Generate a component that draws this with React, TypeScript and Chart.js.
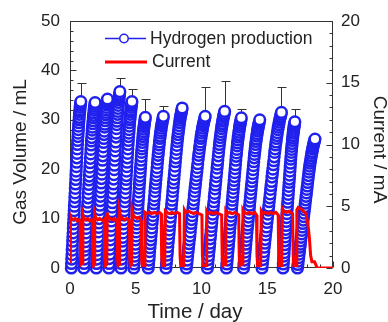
import React, { useEffect, useRef } from 'react';
import { Chart, registerables } from 'chart.js';

Chart.register(...registerables);

// ---- Data ----
const seriesLabels = ['Hydrogen production', 'Current'];
const axisTitles = ['Time / day', 'Gas Volume / mL', 'Current / mA'];

// start / end (peak) time of each gas-collection cycle, in days
const cycleStart = [0.1, 1.05, 2.0, 2.95, 3.88, 4.85, 5.95, 7.3, 8.85, 10.45, 11.9, 13.2, 14.6, 16.2, 17.3];
const cycleEnd = [0.82, 1.91, 2.85, 3.79, 4.71, 5.73, 7.1, 8.53, 10.28, 11.76, 13.03, 14.43, 16.08, 17.1, 18.63];

// gas volume readings (mL) within each cycle
const cycleVolumes = [
  [0, 0.9, 1.8, 2.7, 3.6, 4.5, 5.4, 6.3, 7.1, 8.0, 8.9, 9.8, 10.7, 11.6, 12.5, 13.4, 14.3, 15.2, 16.1, 17.0, 17.9, 18.8, 19.6, 20.5, 21.4, 22.3, 23.2, 24.1, 25.0, 25.8, 26.6, 27.3, 28.0, 28.7, 29.4, 30.0, 30.5, 31.1, 31.6, 32.0, 32.5, 32.9, 33.3, 33.7],
  [0, 0.9, 1.8, 2.7, 3.6, 4.4, 5.3, 6.2, 7.1, 8.0, 8.9, 9.8, 10.7, 11.5, 12.4, 13.3, 14.2, 15.1, 16.0, 16.9, 17.8, 18.6, 19.5, 20.4, 21.3, 22.2, 23.1, 24.0, 24.9, 25.7, 26.4, 27.2, 27.9, 28.5, 29.2, 29.8, 30.4, 30.9, 31.4, 31.9, 32.3, 32.7, 33.1, 33.5],
  [0, 0.9, 1.8, 2.7, 3.6, 4.5, 5.4, 6.3, 7.3, 8.2, 9.1, 10.0, 10.9, 11.8, 12.7, 13.6, 14.5, 15.4, 16.3, 17.2, 18.1, 19.0, 19.9, 20.8, 21.8, 22.7, 23.6, 24.5, 25.4, 26.2, 27.0, 27.7, 28.5, 29.1, 29.8, 30.4, 31.0, 31.5, 32.0, 32.5, 33.0, 33.4, 33.8, 34.2],
  [0, 0.9, 1.9, 2.8, 3.8, 4.7, 5.7, 6.6, 7.6, 8.5, 9.5, 10.4, 11.4, 12.3, 13.2, 14.2, 15.1, 16.1, 17.0, 18.0, 18.9, 19.9, 20.8, 21.8, 22.7, 23.7, 24.6, 25.5, 26.5, 27.3, 28.2, 29.0, 29.7, 30.4, 31.1, 31.7, 32.3, 32.9, 33.5, 34.0, 34.4, 34.8, 35.2, 35.7],
  [0, 0.9, 1.8, 2.7, 3.6, 4.5, 5.4, 6.2, 7.1, 8.0, 8.9, 9.8, 10.7, 11.6, 12.5, 13.4, 14.3, 15.2, 16.1, 17.0, 17.9, 18.7, 19.6, 20.5, 21.4, 22.3, 23.2, 24.1, 25.0, 25.8, 26.6, 27.3, 28.0, 28.7, 29.4, 30.0, 30.5, 31.1, 31.6, 32.0, 32.5, 32.9, 33.3, 33.7],
  [0, 0.8, 1.6, 2.4, 3.2, 4.0, 4.8, 5.7, 6.5, 7.3, 8.1, 8.9, 9.7, 10.5, 11.3, 12.1, 12.9, 13.7, 14.5, 15.4, 16.2, 17.0, 17.8, 18.6, 19.4, 20.2, 21.0, 21.8, 22.6, 23.4, 24.1, 24.7, 25.4, 26.0, 26.6, 27.1, 27.6, 28.1, 28.6, 29.0, 29.4, 29.8, 30.1, 30.5],
  [0, 0.8, 1.6, 2.4, 3.3, 4.1, 4.9, 5.7, 6.5, 7.3, 8.1, 9.0, 9.8, 10.6, 11.4, 12.2, 13.0, 13.8, 14.6, 15.5, 16.3, 17.1, 17.9, 18.7, 19.5, 20.3, 21.2, 22.0, 22.8, 23.5, 24.2, 24.9, 25.5, 26.2, 26.7, 27.3, 27.8, 28.3, 28.8, 29.2, 29.6, 30.0, 30.3, 30.7],
  [0, 0.9, 1.7, 2.6, 3.4, 4.3, 5.2, 6.0, 6.9, 7.7, 8.6, 9.4, 10.3, 11.2, 12.0, 12.9, 13.7, 14.6, 15.5, 16.3, 17.2, 18.0, 18.9, 19.7, 20.6, 21.5, 22.3, 23.2, 24.0, 24.8, 25.6, 26.3, 27.0, 27.6, 28.2, 28.8, 29.4, 29.9, 30.4, 30.8, 31.2, 31.6, 32.0, 32.4],
  [0, 0.8, 1.6, 2.5, 3.3, 4.1, 4.9, 5.7, 6.5, 7.3, 8.2, 9.0, 9.8, 10.6, 11.4, 12.2, 13.0, 13.8, 14.7, 15.5, 16.3, 17.1, 17.9, 18.7, 19.5, 20.3, 21.1, 22.0, 22.8, 23.5, 24.2, 24.9, 25.5, 26.2, 26.7, 27.3, 27.8, 28.3, 28.8, 29.2, 29.6, 30.0, 30.3, 30.7],
  [0, 0.8, 1.7, 2.5, 3.4, 4.2, 5.0, 5.9, 6.7, 7.6, 8.4, 9.2, 10.1, 10.9, 11.8, 12.6, 13.4, 14.3, 15.1, 16.0, 16.8, 17.6, 18.5, 19.3, 20.2, 21.0, 21.8, 22.7, 23.5, 24.3, 25.0, 25.7, 26.4, 27.0, 27.6, 28.2, 28.7, 29.2, 29.7, 30.1, 30.6, 30.9, 31.3, 31.7],
  [0, 0.8, 1.6, 2.4, 3.2, 4.0, 4.8, 5.6, 6.4, 7.3, 8.1, 8.9, 9.7, 10.5, 11.3, 12.1, 12.9, 13.7, 14.5, 15.3, 16.1, 16.9, 17.7, 18.5, 19.3, 20.1, 20.9, 21.8, 22.6, 23.3, 24.0, 24.7, 25.3, 25.9, 26.5, 27.0, 27.5, 28.0, 28.5, 28.9, 29.3, 29.7, 30.0, 30.4],
  [0, 0.8, 1.6, 2.4, 3.2, 4.0, 4.8, 5.6, 6.4, 7.2, 8.0, 8.7, 9.5, 10.3, 11.1, 11.9, 12.7, 13.5, 14.3, 15.1, 15.9, 16.7, 17.5, 18.3, 19.1, 19.9, 20.7, 21.5, 22.3, 23.0, 23.7, 24.3, 25.0, 25.6, 26.1, 26.7, 27.2, 27.7, 28.1, 28.5, 28.9, 29.3, 29.6, 30.0],
  [0, 0.8, 1.7, 2.5, 3.3, 4.2, 5.0, 5.8, 6.7, 7.5, 8.3, 9.2, 10.0, 10.9, 11.7, 12.5, 13.4, 14.2, 15.0, 15.9, 16.7, 17.5, 18.4, 19.2, 20.0, 20.9, 21.7, 22.5, 23.4, 24.1, 24.9, 25.5, 26.2, 26.8, 27.4, 28.0, 28.5, 29.0, 29.5, 30.0, 30.4, 30.7, 31.1, 31.5],
  [0, 0.8, 1.6, 2.4, 3.1, 3.9, 4.7, 5.5, 6.3, 7.1, 7.8, 8.6, 9.4, 10.2, 11.0, 11.8, 12.5, 13.3, 14.1, 14.9, 15.7, 16.5, 17.3, 18.0, 18.8, 19.6, 20.4, 21.2, 22.0, 22.7, 23.4, 24.0, 24.6, 25.2, 25.8, 26.3, 26.8, 27.3, 27.7, 28.1, 28.5, 28.9, 29.2, 29.6],
  [0, 0.7, 1.4, 2.1, 2.8, 3.5, 4.2, 4.8, 5.5, 6.2, 6.9, 7.6, 8.3, 9.0, 9.7, 10.4, 11.1, 11.8, 12.4, 13.1, 13.8, 14.5, 15.2, 15.9, 16.6, 17.3, 18.0, 18.7, 19.4, 20.0, 20.6, 21.2, 21.7, 22.2, 22.7, 23.2, 23.6, 24.1, 24.5, 24.8, 25.2, 25.5, 25.8, 26.1],
];

// error (mL) on the final reading of each cycle (0 = no bar drawn)
const peakError = [3.7, 0, 0, 2.7, 2.5, 3.8, 2.0, 0, 6.0, 6.2, 1.8, 0, 5.2, 2.6, 0];

// current trace
const currentTime = [
  0.0, 0.03, 0.1, 0.25, 0.4, 0.55, 0.7, 0.77, 0.8, 0.85, 0.95,
  0.98, 1.05, 1.2, 1.35, 1.5, 1.65, 1.72, 1.75, 1.8, 1.85,
  1.88, 1.95, 2.1, 2.25, 2.4, 2.55, 2.61, 2.64, 2.7, 2.8,
  2.83, 2.9, 3.05, 3.2, 3.35, 3.5, 3.58, 3.61, 3.66, 3.74,
  3.77, 3.85, 4.0, 4.15, 4.3, 4.45, 4.52, 4.55, 4.6, 4.69,
  4.72, 4.8, 4.95, 5.1, 5.25, 5.38, 5.42, 5.45, 5.5, 5.65,
  5.7, 5.8, 6.0, 6.2, 6.4, 6.6, 6.8, 6.93, 6.97, 7.02, 7.2,
  7.25, 7.35, 7.55, 7.75, 7.95, 8.15, 8.33, 8.37, 8.42, 8.65,
  8.7, 8.8, 9.0, 9.2, 9.4, 9.6, 9.8, 10.03, 10.07, 10.12, 10.35,
  10.4, 10.5, 10.7, 10.9, 11.1, 11.3, 11.53, 11.57, 11.62, 11.8,
  11.85, 11.95, 12.15, 12.35, 12.55, 12.83, 12.87, 12.92, 13.1,
  13.15, 13.25, 13.45, 13.65, 13.85, 14.05, 14.18, 14.22, 14.27, 14.5,
  14.55, 14.65, 14.85, 15.05, 15.25, 15.45, 15.65, 15.83, 15.87, 15.92, 16.1,
  16.15, 16.25, 16.45, 16.65, 16.93, 16.97, 17.02, 17.2,
  17.25, 17.35, 17.55, 17.75, 17.95, 18.1, 18.2, 18.3, 18.4, 18.6, 18.8, 20.0,
];
const currentValue = [
  0.5, 4.2, 4.0, 3.9, 4.0, 3.8, 3.9, 3.7, 1.0, 0.3, 0.4,
  4.3, 4.0, 3.9, 4.0, 3.8, 3.9, 3.7, 0.8, 0.2, 0.3,
  4.4, 4.1, 3.9, 4.0, 3.9, 3.8, 3.9, 0.9, 0.2, 0.3,
  4.5, 4.1, 4.0, 3.9, 4.0, 3.8, 3.9, 0.8, 0.2, 0.3,
  4.6, 4.2, 4.0, 3.9, 4.0, 3.9, 3.8, 0.7, 0.2, 0.3,
  4.7, 4.3, 4.1, 4.0, 4.1, 3.9, 3.8, 0.6, 0.2, 0.2,
  4.5, 4.4, 4.5, 4.4, 4.5, 4.4, 4.5, 4.4, 1.0, 0.2, 0.2,
  4.6, 4.5, 4.4, 4.5, 4.4, 4.5, 4.4, 1.0, 0.2, 0.2,
  4.7, 4.5, 4.6, 4.5, 4.4, 4.5, 4.4, 4.3, 1.0, 0.2, 0.2,
  4.6, 4.4, 4.5, 4.4, 4.5, 4.4, 4.3, 1.0, 0.2, 0.3,
  4.6, 4.4, 4.5, 4.4, 4.5, 4.3, 1.0, 0.2, 0.3,
  4.7, 4.5, 4.4, 4.5, 4.4, 4.5, 4.3, 1.0, 0.2, 0.2,
  4.6, 4.4, 4.5, 4.4, 4.5, 4.4, 4.5, 4.3, 1.0, 0.2, 0.2,
  4.8, 4.6, 4.5, 4.6, 4.4, 1.0, 0.2, 0.2,
  4.7, 4.9, 4.8, 4.6, 4.4, 3.5, 2.5, 1.0, 0.5, 0.5, 0.0, 0.0,
];

const xRange = [0, 20];
const yRange = [0, 50];
const y1Range = [0, 20];

const FONT = '"Liberation Sans", Arial, Helvetica, sans-serif';
const BLUE = '#2020ee';
const RED = '#ff0000';
const INK = '#222222';

const framePlugin = {
  id: 'frameTicks',
  beforeDatasetsDraw(chart: any) {
    const { ctx, chartArea: a, scales } = chart;
    ctx.save();
    ctx.strokeStyle = '#333333';
    ctx.lineWidth = 1;
    const L = Math.round(a.left) + 0.5;
    const R = Math.round(a.right) - 0.5;
    const T = Math.round(a.top) + 0.5;
    const B = Math.round(a.bottom) - 0.5;
    ctx.strokeRect(L, T, R - L, B - T);
    ctx.beginPath();
    scales.x.ticks.forEach((t: any) => {
      const px = Math.round(scales.x.getPixelForValue(t.value)) + 0.5;
      const len = t.value % 5 === 0 ? 6 : 3;
      ctx.moveTo(px, B);
      ctx.lineTo(px, B - len);
    });
    scales.y.ticks.forEach((t: any) => {
      const py = Math.round(scales.y.getPixelForValue(t.value)) + 0.5;
      const len = t.value % 10 === 0 ? 6 : 3;
      ctx.moveTo(L, py);
      ctx.lineTo(L + len, py);
    });
    scales.y1.ticks.forEach((t: any) => {
      const py = Math.round(scales.y1.getPixelForValue(t.value)) + 0.5;
      const len = t.value % 5 === 0 ? 6 : 3;
      ctx.moveTo(R, py);
      ctx.lineTo(R - len, py);
    });
    ctx.stroke();

    // error bars on the final reading of each cycle
    ctx.strokeStyle = '#333333';
    ctx.lineWidth = 1;
    ctx.beginPath();
    cycleVolumes.forEach((vals, c) => {
      const err = peakError[c];
      if (!err) return;
      const v = vals[vals.length - 1];
      const px = Math.round(scales.x.getPixelForValue(cycleEnd[c])) + 0.5;
      const top = Math.round(scales.y.getPixelForValue(v + err)) + 0.5;
      const bot = scales.y.getPixelForValue(v);
      ctx.moveTo(px, bot);
      ctx.lineTo(px, top);
      ctx.moveTo(px - 4, top);
      ctx.lineTo(px + 5, top);
    });
    ctx.stroke();
    ctx.restore();
  },
  afterDraw(chart: any) {
    const { ctx } = chart;
    ctx.save();
    ctx.textBaseline = 'middle';
    ctx.textAlign = 'center';
    ctx.fillStyle = INK;
    // axis titles
    ctx.font = '20.5px ' + FONT;
    ctx.fillText(axisTitles[0], 195, 312);
    ctx.font = '19px ' + FONT;
    ctx.save();
    ctx.translate(21, 152);
    ctx.rotate(-Math.PI / 2);
    ctx.fillText(axisTitles[1], 0, 0);
    ctx.restore();
    ctx.save();
    ctx.translate(379, 149.5);
    ctx.rotate(Math.PI / 2);
    ctx.fillText(axisTitles[2], 0, 0);
    ctx.restore();

    // legend
    ctx.textAlign = 'left';
    ctx.font = '17.5px ' + FONT;
    ctx.strokeStyle = BLUE;
    ctx.lineWidth = 1.5;
    ctx.beginPath();
    ctx.moveTo(105, 38.5);
    ctx.lineTo(146, 38.5);
    ctx.stroke();
    ctx.beginPath();
    ctx.arc(124, 38.5, 4.2, 0, Math.PI * 2);
    ctx.fillStyle = '#ffffff';
    ctx.fill();
    ctx.stroke();
    ctx.fillStyle = INK;
    ctx.fillText(seriesLabels[0], 150, 39);
    ctx.strokeStyle = RED;
    ctx.lineWidth = 3;
    ctx.beginPath();
    ctx.moveTo(105, 62);
    ctx.lineTo(147, 62);
    ctx.stroke();
    ctx.fillText(seriesLabels[1], 152, 62.5);
    ctx.restore();
  },
};

export default function App() {
  const ref = useRef<HTMLCanvasElement | null>(null);
  useEffect(() => {
    if (!ref.current) return;
    const h2Points: { x: number; y: number }[] = [];
    cycleVolumes.forEach((vals, c) => {
      const n = vals.length;
      vals.forEach((v, i) => {
        h2Points.push({ x: cycleStart[c] + ((cycleEnd[c] - cycleStart[c]) * i) / (n - 1), y: v });
      });
    });
    const currentPoints = currentTime.map((t, i) => ({ x: t, y: currentValue[i] }));

    const tickFont = { family: FONT, size: 17 };

    const chart = new Chart(ref.current, {
      type: 'scatter',
      data: {
        datasets: [
          {
            label: seriesLabels[1],
            data: currentPoints,
            yAxisID: 'y1',
            showLine: true,
            borderColor: RED,
            borderWidth: 3,
            pointRadius: 0,
            tension: 0,
            order: 0,
          } as any,
          {
            label: seriesLabels[0],
            data: h2Points,
            yAxisID: 'y',
            showLine: false,
            pointRadius: 5.3,
            pointBorderWidth: 2.5,
            pointBackgroundColor: '#ffffff',
            pointBorderColor: BLUE,
            clip: false,
            order: 1,
          } as any,
        ],
      },
      options: {
        animation: false,
        responsive: false,
        events: [],
        layout: { padding: { top: 21, left: 0, right: 0, bottom: 0 } },
        plugins: { legend: { display: false }, tooltip: { enabled: false } },
        scales: {
          x: {
            type: 'linear',
            min: xRange[0],
            max: xRange[1],
            grid: { display: false, drawTicks: false },
            border: { display: false },
            ticks: {
              stepSize: 1,
              autoSkip: false,
              maxRotation: 0,
              padding: 11,
              color: INK,
              font: tickFont,
              callback: (v: any) => (Number(v) % 5 === 0 ? String(v) : ''),
            },
            afterFit: (s: any) => { s.height = 54; },
          },
          y: {
            type: 'linear',
            position: 'left',
            min: yRange[0],
            max: yRange[1],
            grid: { display: false, drawTicks: false },
            border: { display: false },
            ticks: {
              stepSize: 2,
              autoSkip: false,
              padding: 10,
              color: INK,
              font: tickFont,
              callback: (v: any) => (Number(v) % 10 === 0 ? String(v) : ''),
            },
            afterFit: (s: any) => { s.width = 70; },
          },
          y1: {
            type: 'linear',
            position: 'right',
            min: y1Range[0],
            max: y1Range[1],
            grid: { display: false, drawTicks: false },
            border: { display: false },
            ticks: {
              stepSize: 1,
              autoSkip: false,
              padding: 8,
              color: INK,
              font: tickFont,
              callback: (v: any) => (Number(v) % 5 === 0 ? String(v) : ''),
            },
            afterFit: (s: any) => { s.width = 55; },
          },
        },
      },
      plugins: [framePlugin],
    });
    return () => chart.destroy();
  }, []);

  return (
    <div style={{ position: 'absolute', left: 0, top: 0, width: 388, height: 322, background: '#ffffff' }}>
      <canvas ref={ref} width={388} height={322} style={{ display: 'block', width: 388, height: 322 }} />
    </div>
  );
}
